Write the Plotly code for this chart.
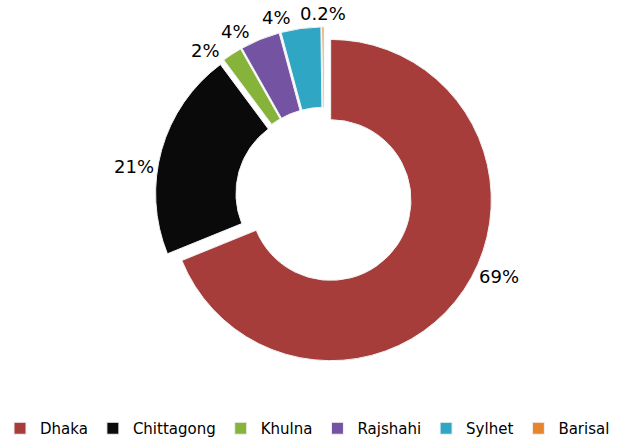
import math
import plotly.graph_objects as go

regions = ["Dhaka", "Chittagong", "Khulna", "Rajshahi", "Sylhet", "Barisal"]
shares = [69, 21, 2, 4, 4, 0.2]
colors = ["#A63D3B", "#0A0A0A", "#86B33A", "#7453A3", "#2FA6C4", "#E8842C"]
# angular nudge (degrees, counter-clockwise) for each percentage label
label_nudge = [9, 7, 6, 6, 7, 0]

W, H = 623, 445
CX, CY = 324, 196          # pie centre (px from left / top)
R = 161                    # outer radius (px)
PULL = 0.05
HALF = R * (1 + PULL)

fig = go.Figure(go.Pie(
    labels=regions,
    values=shares,
    sort=False,
    direction="clockwise",
    rotation=0,
    hole=0.5,
    pull=[PULL] * len(regions),
    marker=dict(colors=colors, line=dict(color="#F2F2F2", width=1)),
    textinfo="none",
    hoverinfo="label+percent",
    domain=dict(x=[(CX - HALF) / W, (CX + HALF) / W],
                y=[1 - (CY + HALF) / H, 1 - (CY - HALF) / H]),
))

# percentage labels placed just outside each slice (derived from the data)
total = sum(shares)
cum = 0.0
for v, nudge in zip(shares, label_nudge):
    mid = (cum + v / 2) / total * 360
    cum += v
    ang = math.radians(mid - nudge)
    dx, dy = math.sin(ang), math.cos(ang)
    txt = f"{v:g}%"
    tw, th = 12.5 * len(txt), 20
    dist = HALF + 3 + abs(dx) * tw / 2 + abs(dy) * th / 2
    px = CX + dx * dist
    py = CY - dy * dist
    fig.add_annotation(
        x=px / W, y=1 - py / H, xref="paper", yref="paper",
        text=txt, showarrow=False, xanchor="center", yanchor="middle",
        font=dict(family="DejaVu Sans", size=18, color="#000000"),
    )

fig.update_layout(
    width=W, height=H,
    margin=dict(l=0, r=0, t=0, b=0),
    paper_bgcolor="#FFFFFF",
    plot_bgcolor="#FFFFFF",
    showlegend=True,
    legend=dict(
        orientation="h", x=0.0, xanchor="left", y=0.034, yanchor="middle",
        font=dict(family="DejaVu Sans", size=15, color="#000000"),
        itemwidth=30,
    ),
)

fig.write_html("out.html")
